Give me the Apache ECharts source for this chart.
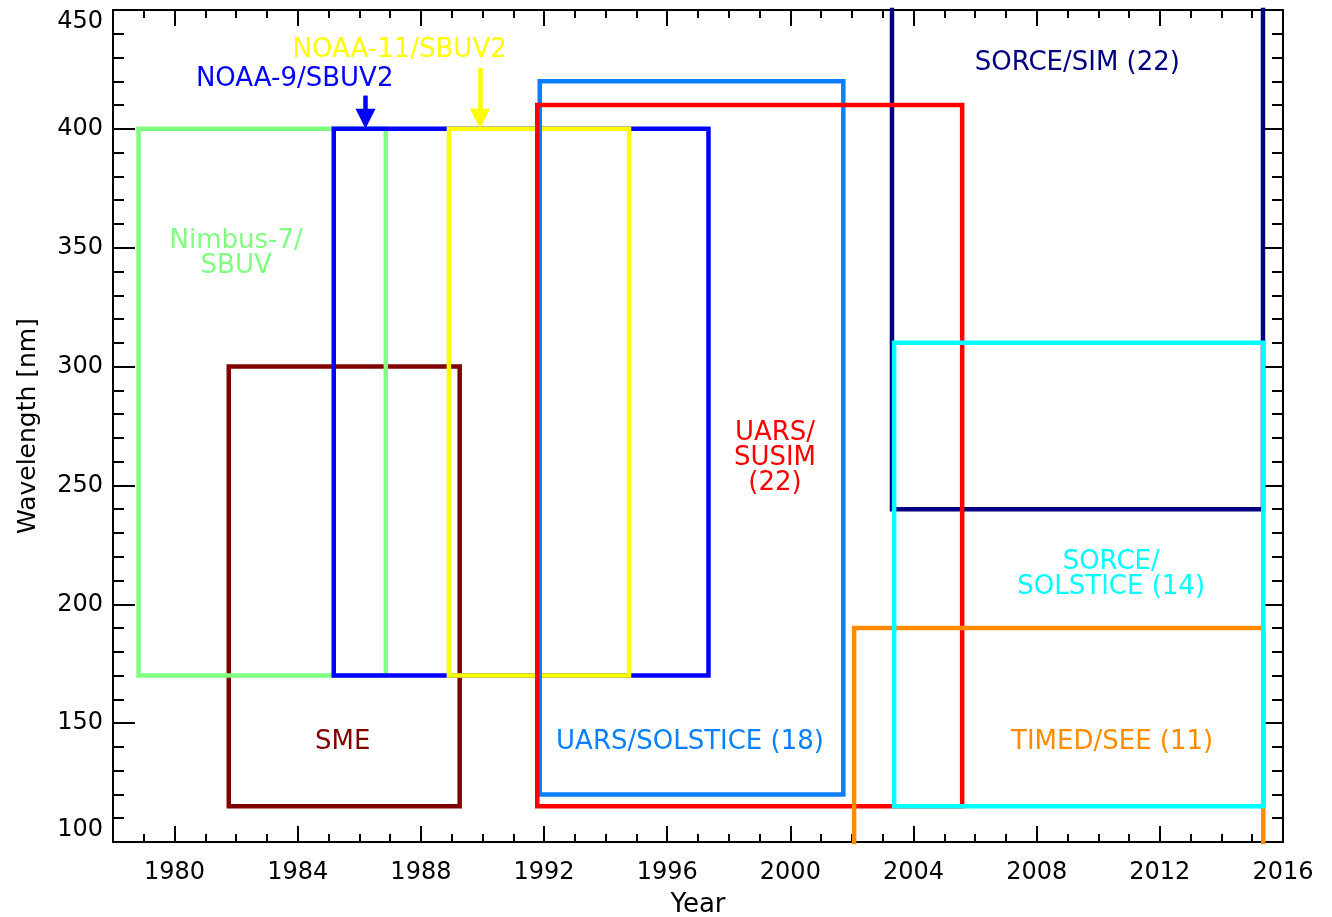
<!DOCTYPE html>
<html>
<head>
<meta charset="utf-8">
<script src="https://cdn.jsdelivr.net/npm/echarts@6/dist/echarts.min.js"></script>
<style>
html,body{margin:0;padding:0;background:#fff;}
#chart{width:1332px;height:917px;}
</style>
</head>
<body>
<div id="chart"></div>
<script>
// ---- data ----
const instruments = ['SME', 'Nimbus-7/SBUV', 'NOAA-9/SBUV2', 'NOAA-11/SBUV2', 'UARS/SOLSTICE', 'SORCE/SIM', 'UARS/SUSIM', 'TIMED/SEE', 'SORCE/SOLSTICE'];
const startYear = [1981.76, 1978.83, 1985.17, 1988.91, 1991.86, 2003.30, 1991.78, 2002.07, 2003.37];
const endYear   = [1989.26, 1986.86, 1997.34, 1994.76, 2001.72, 2015.35, 2005.58, 2015.36, 2015.36];
const minWave   = [115, 170, 170, 170, 120, 240, 115, 0.1, 115];
const maxWave   = [300, 400, 400, 400, 420, 2400, 410, 190, 310];
const boxColors = ['#800000', '#80ff80', '#0000ff', '#ffff00', '#0a80ff', '#000080', '#ff0000', '#ff8c00', '#00ffff'];

// arrows: [year, shaft top wavelength, arrow end wavelength]
const noaa9Arrow  = [1986.2, 414, 404.2];
const noaa11Arrow = [1989.92, 425.5, 404.2];

const noteText  = ['NOAA-11/SBUV2', 'NOAA-9/SBUV2', 'Nimbus-7/\nSBUV', 'SME', 'UARS/SOLSTICE (18)', 'UARS/\nSUSIM\n(22)', 'SORCE/SIM (22)', 'SORCE/\nSOLSTICE (14)', 'TIMED/SEE (11)'];
const noteYear  = [1987.31, 1983.9, 1982.0, 1985.46, 1996.74, 1999.5, 2009.32, 2010.42, 2010.45];
const noteWave  = [433.0, 421.0, 347.3, 141.8, 141.8, 261.6, 427.8, 212.4, 141.8];
const noteColor = ['#ffff00', '#0000ff', '#80ff80', '#800000', '#0a80ff', '#ff0000', '#000080', '#00ffff', '#ff8c00'];

const xMin = 1978, xMax = 2016;
const yMin = 100, yMax = 450;
const majorYears = [1980, 1984, 1988, 1992, 1996, 2000, 2004, 2008, 2012, 2016];
const minorYears = [1978, 1979, 1980, 1981, 1982, 1983, 1984, 1985, 1986, 1987, 1988, 1989, 1990, 1991, 1992, 1993, 1994, 1995, 1996, 1997, 1998, 1999, 2000, 2001, 2002, 2003, 2004, 2005, 2006, 2007, 2008, 2009, 2010, 2011, 2012, 2013, 2014, 2015, 2016];

// ---- chart ----
const FONT = 'DejaVu Sans';
const chart = echarts.init(document.getElementById('chart'), null, {renderer: 'canvas'});

const axisLine = {show: true, lineStyle: {color: '#000', width: 2}};
function xAx(pos, ticks, len, withLine, withLabel) {
  return {
    type: 'value', position: pos, min: xMin, max: xMax,
    axisLine: withLine ? axisLine : {show: false},
    axisTick: {show: true, inside: true, length: len, customValues: ticks, lineStyle: {color: '#000', width: 2}},
    axisLabel: withLabel ? {show: true, customValues: majorYears, formatter: v => String(Math.round(v)), fontFamily: FONT, fontSize: 24, color: '#000', margin: 19} : {show: false},
    splitLine: {show: false},
    name: withLabel ? 'Year' : '',
    nameLocation: 'middle', nameGap: 50,
    nameTextStyle: {fontFamily: FONT, fontSize: 26, color: '#000'}
  };
}
function yAx(pos, withLabel) {
  return {
    type: 'value', position: pos, min: yMin, max: yMax, interval: 50,
    axisLine: axisLine,
    axisTick: {show: true, inside: true, length: 22, lineStyle: {color: '#000', width: 2}},
    minorTick: {show: true, splitNumber: 5, length: 11, lineStyle: {color: '#000', width: 2}},
    axisLabel: withLabel ? {show: true, fontFamily: FONT, fontSize: 24, color: '#000', margin: 10, verticalAlignMaxLabel: 'top', verticalAlignMinLabel: 'bottom'} : {show: false},
    splitLine: {show: false},
    name: withLabel ? 'Wavelength [nm]' : '',
    nameLocation: 'middle', nameGap: 72,
    nameTextStyle: {fontFamily: FONT, fontSize: 25, color: '#000'}
  };
}

const series = instruments.map((name, i) => ({
  type: 'line', name: name, xAxisIndex: 0, yAxisIndex: 0,
  data: [[startYear[i], minWave[i]], [endYear[i], minWave[i]], [endYear[i], maxWave[i]], [startYear[i], maxWave[i]], [startYear[i], minWave[i]]],
  symbol: 'none', showSymbol: false, clip: true, silent: true, animation: false,
  lineStyle: {color: boxColors[i], width: 4.5, join: 'miter', cap: 'square', opacity: 1},
  z: 2
}));

function arrowLine(arr, color) {
  return {
    type: 'line', xAxisIndex: 0, yAxisIndex: 0, data: [], silent: true, animation: false,
    markLine: {
      silent: true, animation: false,
      symbol: ['none', 'triangle'], symbolSize: 20,
      label: {show: false},
      itemStyle: {color: color},
      lineStyle: {color: color, width: 4.5, type: 'solid', opacity: 1},
      data: [[{coord: [arr[0], arr[1]]}, {coord: [arr[0], arr[2]]}]]
    },
    z: 3
  };
}
series.push(arrowLine(noaa9Arrow, '#0000ff'));
series.push(arrowLine(noaa11Arrow, '#ffff00'));

series.push({
  type: 'scatter', xAxisIndex: 0, yAxisIndex: 0, symbolSize: 0, silent: true, animation: false, clip: false,
  itemStyle: {opacity: 1},
  data: noteText.map((t, i) => ({
    name: t, value: [noteYear[i], noteWave[i]],
    label: {color: noteColor[i]}
  })),
  label: {show: true, position: 'inside', opacity: 1, formatter: p => p.name, fontFamily: FONT, fontSize: 26, lineHeight: 25, align: 'center', verticalAlign: 'middle'},
  z: 5
});

chart.setOption({
  backgroundColor: '#fff',
  animation: false,
  grid: {left: 113, top: 10, right: 49, bottom: 75, containLabel: false, outerBoundsMode: 'none'},
  xAxis: [
    xAx('bottom', majorYears, 16, true, true),
    xAx('bottom', minorYears, 8, false, false),
    xAx('top', majorYears, 16, true, false),
    xAx('top', minorYears, 8, false, false)
  ],
  yAxis: [yAx('left', true), yAx('right', false)],
  series: series
});
</script>
</body>
</html>
